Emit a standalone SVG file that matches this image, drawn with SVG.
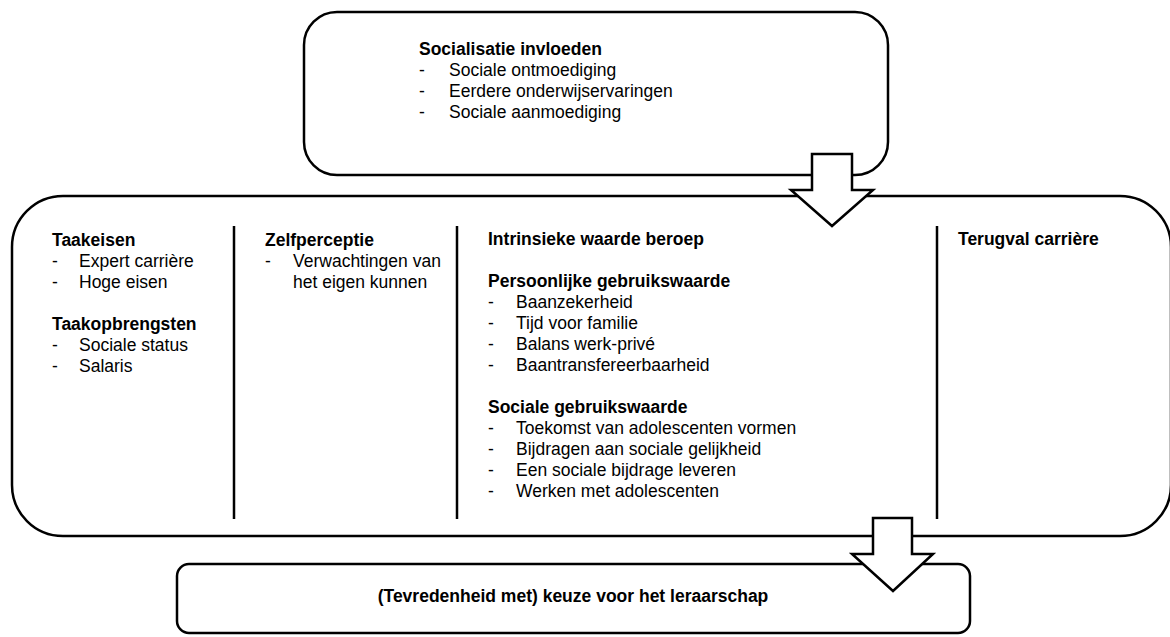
<svg xmlns="http://www.w3.org/2000/svg" width="1170" height="637" viewBox="0 0 1170 637">
  <style>
    .box { fill: #ffffff; stroke: #000000; stroke-width: 2.5; }
    .arrow { fill: #ffffff; stroke: #000000; stroke-width: 2.5; stroke-linejoin: miter; }
    .divider { stroke: #000000; stroke-width: 2.5; }
    text { font-family: "Liberation Sans", Arial, sans-serif; font-size: 17.5px; fill: #000000; }
    .h { font-weight: bold; }
  </style>
  <rect width="1170" height="637" fill="#ffffff"/>

  <!-- Socialisation influences -->
  <g id="node-socialisatie">
    <rect class="box" x="304" y="12" width="584" height="163" rx="33" ry="33"/>
    <text class="h" x="419" y="55">Socialisatie invloeden</text>
    <text x="419" y="76">-</text><text x="449" y="76">Sociale ontmoediging</text>
    <text x="419" y="97">-</text><text x="449" y="97">Eerdere onderwijservaringen</text>
    <text x="419" y="118">-</text><text x="449" y="118">Sociale aanmoediging</text>
  </g>

  <!-- Main block with four columns -->
  <g id="node-motieven">
    <rect class="box" x="12" y="196" width="1159" height="340" rx="51" ry="51" stroke-width="3"/>
    <line class="divider" x1="234" y1="226" x2="234" y2="519"/>
    <line class="divider" x1="457" y1="226" x2="457" y2="519"/>
    <line class="divider" x1="937" y1="226" x2="937" y2="519"/>

    <g id="col-taak">
      <text class="h" x="52" y="246">Taakeisen</text>
      <text x="52" y="267">-</text><text x="79" y="267">Expert carrière</text>
      <text x="52" y="288">-</text><text x="79" y="288">Hoge eisen</text>
      <text class="h" x="52" y="330">Taakopbrengsten</text>
      <text x="52" y="351">-</text><text x="79" y="351">Sociale status</text>
      <text x="52" y="372">-</text><text x="79" y="372">Salaris</text>
    </g>

    <g id="col-zelf">
      <text class="h" x="265" y="246">Zelfperceptie</text>
      <text x="265" y="267">-</text><text x="293" y="267">Verwachtingen van</text>
      <text x="293" y="288">het eigen kunnen</text>
    </g>

    <g id="col-waarde">
      <text class="h" x="488" y="245">Intrinsieke waarde beroep</text>
      <text class="h" x="488" y="287">Persoonlijke gebruikswaarde</text>
      <text x="488" y="308">-</text><text x="516" y="308">Baanzekerheid</text>
      <text x="488" y="329">-</text><text x="516" y="329">Tijd voor familie</text>
      <text x="488" y="350">-</text><text x="516" y="350">Balans werk-privé</text>
      <text x="488" y="371">-</text><text x="516" y="371">Baantransfereerbaarheid</text>
      <text class="h" x="488" y="413">Sociale gebruikswaarde</text>
      <text x="488" y="434">-</text><text x="516" y="434">Toekomst van adolescenten vormen</text>
      <text x="488" y="455">-</text><text x="516" y="455">Bijdragen aan sociale gelijkheid</text>
      <text x="488" y="476">-</text><text x="516" y="476">Een sociale bijdrage leveren</text>
      <text x="488" y="497">-</text><text x="516" y="497">Werken met adolescenten</text>
    </g>

    <g id="col-terugval">
      <text class="h" x="958" y="245">Terugval carrière</text>
    </g>
  </g>

  <!-- Outcome -->
  <g id="node-keuze">
    <rect class="box" x="177" y="564" width="793" height="69" rx="12" ry="12"/>
    <text class="h" x="573" y="602" text-anchor="middle">(Tevredenheid met) keuze voor het leraarschap</text>
  </g>

  <!-- Block arrows -->
  <g id="connectors">
    <polygon class="arrow" points="812,154 852,154 852,190 873,190 832,226 791,190 812,190"/>
    <polygon class="arrow" points="873,518 912,518 912,554 933,554 893,591 852,554 873,554"/>
  </g>
</svg>
